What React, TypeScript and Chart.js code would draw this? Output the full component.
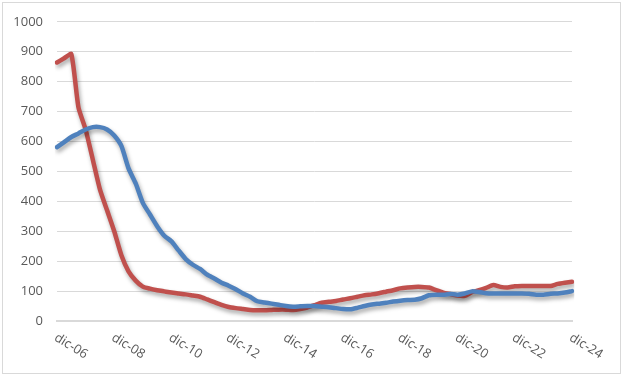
import React, { useEffect, useRef } from "react";
import { Chart, registerables } from "chart.js";

Chart.register(...registerables);

// Quarterly periods from dic-06 to dic-24 (73 points); labels shown every 2 years
const years = ["06", "07", "08", "09", "10", "11", "12", "13", "14", "15", "16", "17", "18", "19", "20", "21", "22", "23", "24"];
const quarterMonths = ["dic", "mar", "jun", "sep"];
const categories: string[] = [];
for (let y = 0; y < years.length; y++) {
  for (let q = 0; q < 4; q++) {
    if (y === years.length - 1 && q > 0) break;
    const yy = q === 0 ? years[y] : years[y + 1];
    categories.push(quarterMonths[q] + "-" + yy);
  }
}
const tickLabels = ["dic-06", "dic-08", "dic-10", "dic-12", "dic-14", "dic-16", "dic-18", "dic-20", "dic-22", "dic-24"];
const yTicks = [0, 100, 200, 300, 400, 500, 600, 700, 800, 900, 1000];

const redSeries = [
  864, 878, 892, 714, 640, 540, 440, 370, 300, 220,
  166, 135, 115, 108, 103, 99, 95, 92, 89, 85,
  81, 72, 63, 54, 47, 43, 40, 37, 36, 36,
  37, 38, 38, 37, 40, 45, 53, 61, 64, 67,
  72, 76, 81, 86, 89, 93, 98, 103, 109, 112,
  114, 114, 112, 103, 95, 90, 85, 84, 96, 103,
  111, 120, 114, 112, 116, 117, 117, 117, 117, 117,
  124, 128, 131,
];
const blueSeries = [
  581, 598, 615, 627, 640, 648, 648, 640, 620, 585,
  510, 460, 395, 356, 317, 285, 266, 236, 207, 188,
  174, 155, 142, 128, 118, 106, 92, 81, 66, 62,
  58, 54, 50, 48, 49, 50, 50, 48, 46, 43,
  40, 39, 44, 50, 55, 58, 61, 65, 68, 70,
  71, 76, 86, 88, 88, 90, 88, 92, 99, 97,
  93, 92, 92, 92, 92, 92, 91, 88, 88, 91,
  92, 95, 100,
];

const FONT = "'Open Sans', 'Liberation Sans', sans-serif";
const TEXT = "#595959";

export default function App() {
  const ref = useRef<HTMLCanvasElement | null>(null);
  useEffect(() => {
    if (!ref.current) return;
    const framePlugin = {
      id: "frame",
      beforeDraw(chart: any) {
        const ctx = chart.ctx;
        ctx.save();
        ctx.fillStyle = "#ffffff";
        ctx.fillRect(0, 0, chart.width, chart.height);
        ctx.strokeStyle = "#D9D9D9";
        ctx.lineWidth = 1;
        ctx.strokeRect(2.5, 2.5, 618, 371);
        ctx.restore();
      },
      afterDraw(chart: any) {
        const ctx = chart.ctx;
        const xs = chart.scales.x;
        ctx.save();
        ctx.font = "13px " + FONT;
        ctx.fillStyle = TEXT;
        ctx.textAlign = "left";
        ctx.textBaseline = "top";
        tickLabels.forEach((lab) => {
          const idx = categories.indexOf(lab);
          if (idx < 0) return;
          const px = xs.getPixelForValue(idx);
          ctx.save();
          ctx.translate(px + 2, 331);
          ctx.rotate((32 * Math.PI) / 180);
          ctx.fillText(lab, 0, 0);
          ctx.restore();
        });
        ctx.restore();
      },
    };
    const shadowPlugin = {
      id: "lineShadow",
      beforeDatasetDraw(chart: any) {
        const ctx = chart.ctx;
        ctx.save();
        ctx.shadowColor = "rgba(0,0,0,0.35)";
        ctx.shadowBlur = 4;
        ctx.shadowOffsetX = 1.5;
        ctx.shadowOffsetY = 3;
      },
      afterDatasetDraw(chart: any) {
        chart.ctx.restore();
      },
    };
    const chart = new Chart(ref.current, {
      type: "line",
      data: {
        labels: categories,
        datasets: [
          {
            label: "blue",
            data: blueSeries,
            borderColor: "#4F81BD",
            borderWidth: 4.5,
            pointRadius: 0,
            tension: 0.2,
            borderCapStyle: "round",
            borderJoinStyle: "round",
            fill: false,
          },
          {
            label: "red",
            data: redSeries,
            borderColor: "#C0504D",
            borderWidth: 4.5,
            pointRadius: 0,
            tension: 0.2,
            borderCapStyle: "round",
            borderJoinStyle: "round",
            fill: false,
          },
        ],
      },
      options: {
        animation: false,
        responsive: false,
        maintainAspectRatio: false,
        layout: { padding: { left: 0, top: 21, right: 55, bottom: 0 } },
        plugins: { legend: { display: false }, tooltip: { enabled: false } },
        scales: {
          x: {
            type: "category",
            offset: false,
            grid: { display: false, drawTicks: false },
            border: { display: true, color: "#D9D9D9", width: 2 },
            ticks: { display: false },
            afterFit(s: any) {
              s.height = 55;
            },
          },
          y: {
            min: 0,
            max: 1000,
            afterBuildTicks(s: any) {
              s.ticks = yTicks.map((v) => ({ value: v }));
            },
            grid: { color: "#D9D9D9", lineWidth: 1, drawTicks: false },
            border: { display: false },
            ticks: {
              padding: 14,
              color: TEXT,
              font: { family: FONT, size: 13 },
              callback: (v: any) => String(v),
            },
            afterFit(s: any) {
              s.width = 57;
            },
          },
        },
      },
      plugins: [framePlugin, shadowPlugin],
    });
    return () => chart.destroy();
  }, []);
  return (
    <div style={{ position: "absolute", left: 0, top: 0, width: 627, height: 376 }}>
      <canvas ref={ref} width={627} height={376} style={{ display: "block" }} />
    </div>
  );
}
